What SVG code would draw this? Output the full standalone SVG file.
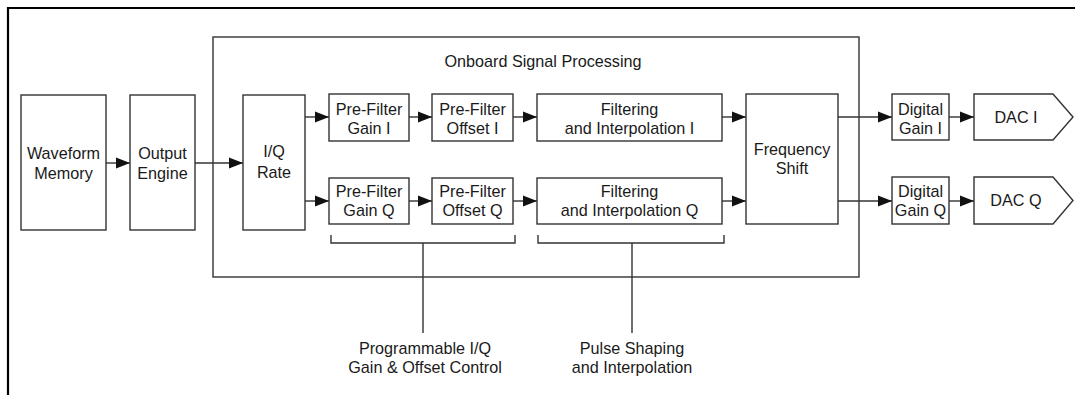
<svg xmlns="http://www.w3.org/2000/svg" width="1075" height="395" viewBox="0 0 1075 395">
<style>
.box{fill:#fff;stroke:#333;stroke-width:1.4}
.ln{fill:none;stroke:#333;stroke-width:1.4}
.ar{fill:none;stroke:#333;stroke-width:1.4;marker-end:url(#ah)}
text{font-family:"Liberation Sans",Arial,sans-serif;font-size:16.2px;fill:#1a1a1a;text-anchor:middle}
</style>
<defs>
<marker id="ah" markerUnits="userSpaceOnUse" markerWidth="14" markerHeight="12" refX="14" refY="6" orient="auto">
<path d="M0,0.5 L14,6 L0,11.5 z" fill="#111"/>
</marker>
</defs>
<rect width="1075" height="395" fill="#fff"/>
<g id="frame"><path d="M8,395 V8 H1075" fill="none" stroke="#000" stroke-width="2.2"/></g>
<g id="onboard"><rect class="box" x="213" y="37" width="646" height="240"/><text x="543" y="67">Onboard Signal Processing</text></g>
<g id="connectors">
<line class="ar" x1="106" y1="163" x2="130" y2="163"/>
<line class="ar" x1="195" y1="163" x2="243" y2="163"/>
<line class="ar" x1="305" y1="117" x2="329" y2="117"/>
<line class="ar" x1="305" y1="201" x2="329" y2="201"/>
<line class="ar" x1="409" y1="117" x2="432" y2="117"/>
<line class="ar" x1="409" y1="201" x2="432" y2="201"/>
<line class="ar" x1="513" y1="117" x2="537" y2="117"/>
<line class="ar" x1="513" y1="201" x2="537" y2="201"/>
<line class="ar" x1="722" y1="117" x2="746" y2="117"/>
<line class="ar" x1="722" y1="201" x2="746" y2="201"/>
<line class="ar" x1="838" y1="117" x2="892" y2="117"/>
<line class="ar" x1="838" y1="201" x2="892" y2="201"/>
<line class="ar" x1="949" y1="117" x2="974" y2="117"/>
<line class="ar" x1="949" y1="201" x2="974" y2="201"/>
<path class="ln" d="M331,235 V243 H515 V235 M423,243 V333"/>
<path class="ln" d="M538,235 V243 H724 V235 M632,243 V333"/>
</g>
<g id="waveform"><rect class="box" x="21" y="95" width="85" height="135"/><text x="63.5" y="159">Waveform</text><text x="63.5" y="179">Memory</text></g>
<g id="output"><rect class="box" x="130" y="95" width="65" height="135"/><text x="162.5" y="159">Output</text><text x="162.5" y="179">Engine</text></g>
<g id="iqrate"><rect class="box" x="243" y="95" width="62" height="135"/><text x="274" y="157">I/Q</text><text x="274" y="178">Rate</text></g>
<g id="pfgi"><rect class="box" x="329" y="94" width="80" height="47"/><text x="369" y="115">Pre-Filter</text><text x="369" y="134">Gain I</text></g>
<g id="pfoi"><rect class="box" x="432" y="94" width="81" height="47"/><text x="472.5" y="115">Pre-Filter</text><text x="472.5" y="134">Offset I</text></g>
<g id="fii"><rect class="box" x="537" y="94" width="185" height="47"/><text x="629.5" y="115">Filtering</text><text x="629.5" y="134">and Interpolation I</text></g>
<g id="pfgq"><rect class="box" x="329" y="178" width="80" height="46"/><text x="369" y="197">Pre-Filter</text><text x="369" y="216">Gain Q</text></g>
<g id="pfoq"><rect class="box" x="432" y="178" width="81" height="46"/><text x="472.5" y="197">Pre-Filter</text><text x="472.5" y="216">Offset Q</text></g>
<g id="fiq"><rect class="box" x="537" y="178" width="185" height="46"/><text x="629.5" y="197">Filtering</text><text x="629.5" y="216">and Interpolation Q</text></g>
<g id="fshift"><rect class="box" x="746" y="94" width="92" height="130"/><text x="792" y="155">Frequency</text><text x="792" y="174">Shift</text></g>
<g id="dgi"><rect class="box" x="892" y="94" width="57" height="46"/><text x="920.5" y="115">Digital</text><text x="920.5" y="134">Gain I</text></g>
<g id="dgq"><rect class="box" x="892" y="177" width="57" height="47"/><text x="920.5" y="197">Digital</text><text x="920.5" y="216">Gain Q</text></g>
<g id="daci"><path class="box" d="M974,94 H1053 L1073,117 L1053,140 H974 Z"/><text x="1016" y="123">DAC I</text></g>
<g id="dacq"><path class="box" d="M974,177 H1053 L1073,200.5 L1053,224 H974 Z"/><text x="1016" y="206">DAC Q</text></g>
<g id="lbl1"><text x="425" y="354">Programmable I/Q</text><text x="425" y="373">Gain &amp; Offset Control</text></g>
<g id="lbl2"><text x="632" y="354">Pulse Shaping</text><text x="632" y="373">and Interpolation</text></g>
</svg>
